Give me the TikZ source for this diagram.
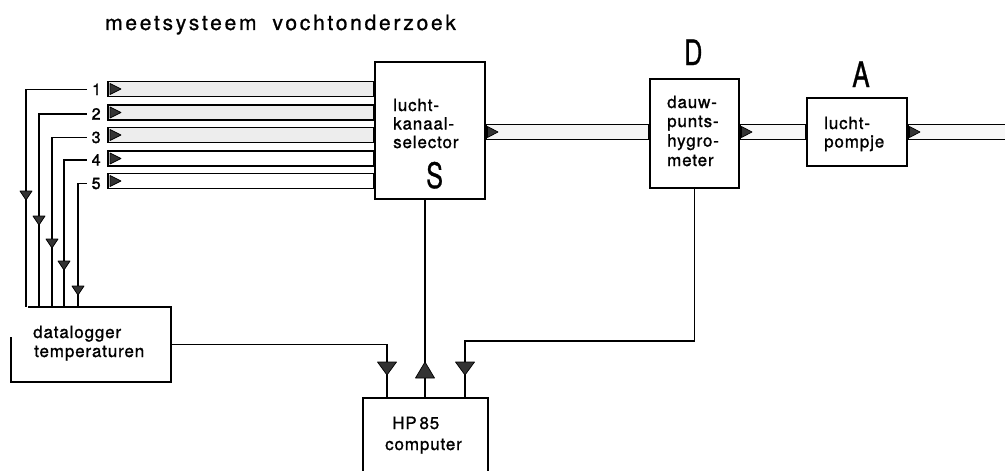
\documentclass[tikz,border=0pt]{standalone}
\usepackage{fontspec}
\setmainfont{TeX Gyre Heros}
\newfontfamily\boxfont[LetterSpace=5,FakeBold=1.2]{TeX Gyre Heros}
\newfontfamily\numfont[FakeBold=1.8]{TeX Gyre Heros}
\newfontfamily\titlefont[LetterSpace=13,FakeBold=1]{TeX Gyre Heros}
\newfontfamily\bigfont[FakeBold=1]{TeX Gyre Heros}
\pgfdeclarelayer{bg}
\pgfsetlayers{bg,main}
\newcommand\downtri[4]{\filldraw[arr] ({#1-#3/2},{#2-#4}) -- ({#1+#3/2},{#2-#4}) -- (#1,#2) -- cycle;}
\newcommand\uptri[4]{\filldraw[arr] ({#1-#3/2},{#2+#4}) -- ({#1+#3/2},{#2+#4}) -- (#1,#2) -- cycle;}
\begin{document}
\begin{tikzpicture}[x=1pt,y=-1pt,
  box/.style={draw, line width=2pt, inner sep=0pt},
  tube/.style={draw, line width=1.9pt},
  conn/.style={line width=1.6pt},
  arr/.style={fill=black!80, draw=black, line width=0.7pt, line join=round},
  txt/.style={anchor=base west, inner sep=0pt, font=\boxfont\fontsize{17}{20}\selectfont},
  num/.style={anchor=base west, inner sep=0pt, font=\numfont\fontsize{16}{18}\selectfont},
  big/.style={anchor=base west, inner sep=0pt, font=\bigfont\fontsize{35}{40}\selectfont}]
\clip (0,0) rectangle (1005,471);

% title
\node[anchor=base west, inner sep=0pt, font=\titlefont\fontsize{21}{24}\selectfont] (title) at (105,30) {meetsysteem\hspace{16pt}vochtonderzoek};

% boxes
\node[box, minimum width=110pt, minimum height=137pt] (sel) at (430,130.5) {};
\node[box, minimum width=89pt, minimum height=109pt] (dauw) at (694.5,133.5) {};
\node[box, minimum width=100pt, minimum height=68pt] (pomp) at (857,132) {};
\node[inner sep=0pt, minimum width=160pt, minimum height=75pt] (dl) at (91,344.5) {};
\draw[line width=2pt] ([xshift=17pt]dl.north west) -- (dl.north east) -- (dl.south east) -- (dl.south west) -- ([yshift=-30pt]dl.north west);
\node[box, minimum width=125pt, minimum height=82pt] (comp) at (425.5,439) {};

% box texts
\node[txt] (s1t) at (393,111) {lucht-};
\node[txt] (s2t) at (393,129.5) {kanaal-};
\node[txt] (s3t) at (393,148) {selector};
\node[big] (S) at (426,188) {\scalebox{0.72}[1]{S}};
\node[txt] (d1t) at (667,108) {dauw-};
\node[txt] (d2t) at (667,127) {punts-};
\node[txt] (d3t) at (667,146.5) {hygro-};
\node[txt] (d4t) at (667,166) {meter};
\node[big] (D) at (684,65) {\scalebox{0.72}[1]{D}};
\node[txt] (p1t) at (824,129) {lucht-};
\node[txt] (p2t) at (824,147.5) {pompje};
\node[big] (A) at (852,87) {\scalebox{0.75}[1]{A}};
\node[txt] (l1t) at (33,338) {datalogger};
\node[txt] (l2t) at (34,357) {temperaturen};
\node[txt] (c1t) at (392,429) {HP\,85};
\node[txt] (c2t) at (385,450) {computer};

% numbered inlets
\coordinate (p1) at (108,89);
\coordinate (p2) at (108,112.5);
\coordinate (p3) at (108,135);
\coordinate (p4) at (108,158.5);
\coordinate (p5) at (108,181);
\foreach \i in {1,...,5}{\coordinate (q\i) at (p\i -| sel.west);}
\begin{pgfonlayer}{bg}
  \foreach \i/\f in {1/black!7,2/black!7,3/black!7,4/white,5/white}{
    \draw[tube, fill=\f] ([yshift=7.5pt]p\i) rectangle ([yshift=-7.5pt]q\i);
  }
  \coordinate (ty) at (0,132);
  \coordinate (o1) at (sel.east |- ty);
  \coordinate (o2) at (dauw.west |- ty);
  \coordinate (o3) at (dauw.east |- ty);
  \coordinate (o4) at (pomp.west |- ty);
  \coordinate (o5) at (pomp.east |- ty);
  \coordinate (o6) at (1015,132);
  \draw[tube, fill=black!4] ([yshift=7.5pt]o1) rectangle ([yshift=-7.5pt]o2);
  \draw[tube, fill=black!3] ([yshift=7.5pt]o3) rectangle ([yshift=-7.5pt]o4);
  \draw[tube, fill=black!3] ([yshift=7.5pt]o5) rectangle ([yshift=-7.5pt]o6);
\end{pgfonlayer}
\foreach \i in {1,...,5}{
  \filldraw[arr] ([xshift=2pt,yshift=5.5pt]p\i) -- ([xshift=2pt,yshift=-5.5pt]p\i) -- ([xshift=13pt]p\i) -- cycle;
}
\foreach \o in {o1,o3,o5}{
  \filldraw[arr] ([xshift=1.5pt,yshift=5.5pt]\o) -- ([xshift=1.5pt,yshift=-5.5pt]\o) -- ([xshift=12pt]\o) -- cycle;
}

% number labels
\node[num] (n1) at (92,95) {1};
\node[num] (n2) at (91.5,119.5) {2};
\node[num] (n3) at (91.5,143) {3};
\node[num] (n4) at (91.5,165.5) {4};
\node[num] (n5) at (91.5,189) {5};

% sensor lines to datalogger
\coordinate (v1) at (26,0);
\coordinate (v2) at (39,0);
\coordinate (v3) at (52,0);
\coordinate (v4) at (64,0);
\coordinate (v5) at (78,0);
\foreach \i in {1,...,5}{
  \draw[conn] ([xshift=-5pt]n\i.west) -| (v\i |- dl.north);
}
\downtri{26}{200}{12}{9}
\downtri{39}{225}{12}{9}
\downtri{52}{248}{12}{9}
\downtri{64}{270}{12}{9}
\downtri{78}{295}{12}{9}

% connections to computer
\coordinate (c1) at (387,0);
\coordinate (c2) at (425,0);
\coordinate (c3) at (465,0);
\coordinate (k) at (0,341);
\draw[conn] (dl.east) -| (c1 |- comp.north);
\draw[conn] (c2 |- sel.south) -- (c2 |- comp.north);
\draw[conn] (dauw.south) |- (c3 |- k) -- (c3 |- comp.north);
\downtri{387}{375}{19}{13}
\uptri{425}{362}{19}{16}
\downtri{465}{375}{19}{13}
\end{tikzpicture}
\end{document}
